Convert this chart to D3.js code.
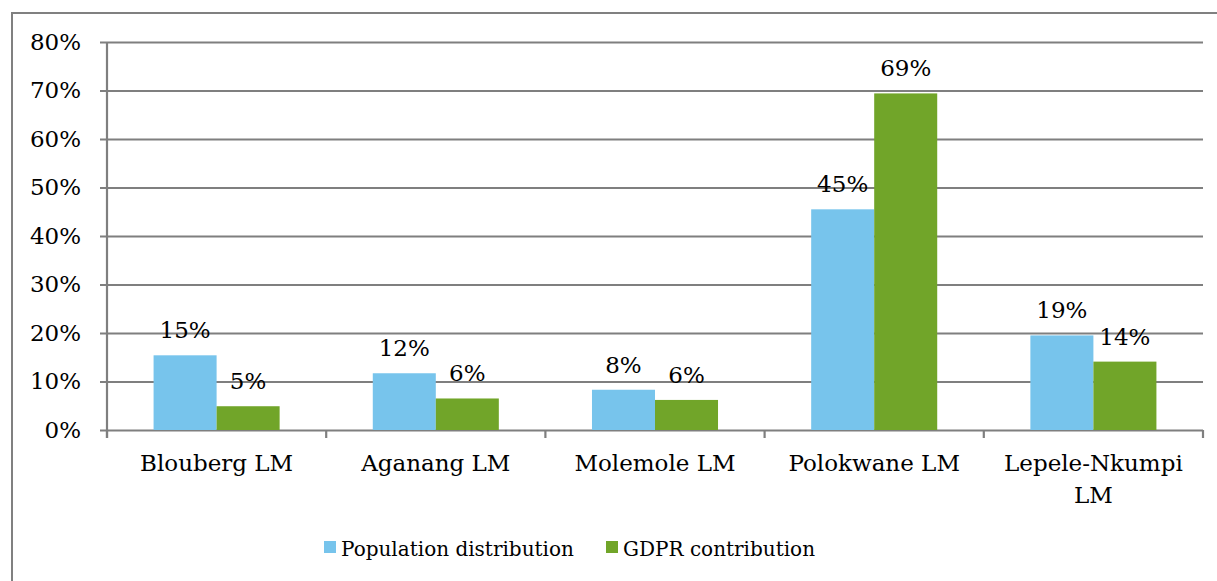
<!DOCTYPE html>
<html>
<head>
<meta charset="utf-8">
<script src="https://cdn.jsdelivr.net/npm/d3@7"></script>
<style>
  body { margin: 0; background: #fff; }
  svg { display: block; }
  text { font-family: "DejaVu Serif", serif; fill: #000; }
</style>
</head>
<body>
<div id="chart"></div>
<script>
const categories = ["Blouberg LM", "Aganang LM", "Molemole LM", "Polokwane LM", "Lepele-Nkumpi LM"];
const seriesNames = ["Population distribution", "GDPR contribution"];
const population = [15.4, 11.7, 8.3, 45.5, 19.5];
const gdpr = [4.9, 6.5, 6.2, 69.4, 14.1];
const popLabels = ["15%", "12%", "8%", "45%", "19%"];
const gdprLabels = ["5%", "6%", "6%", "69%", "14%"];
const yTicks = [0, 10, 20, 30, 40, 50, 60, 70, 80];
const colors = ["#77c4ec", "#71a529"];

const width = 1217, height = 581;
const margin = {left: 107, right: 14, top: 42, bottom: 151};

const svg = d3.select("#chart").append("svg")
    .attr("width", width)
    .attr("height", height);

// outer frame, runs off the right and bottom edges
svg.append("rect")
    .attr("x", 12).attr("y", 13)
    .attr("width", 1220).attr("height", 600)
    .attr("fill", "none")
    .attr("stroke", "#808080")
    .attr("stroke-width", 2);

const x0 = d3.scaleBand()
    .domain(categories)
    .range([margin.left, width - margin.right]);

const groupW = x0.bandwidth() * 0.575;
const x1 = d3.scaleBand()
    .domain(seriesNames)
    .range([(x0.bandwidth() - groupW) / 2, (x0.bandwidth() + groupW) / 2]);

const y = d3.scaleLinear()
    .domain([0, 80])
    .range([height - margin.bottom, margin.top]);

// gridlines + y labels
const yAxis = svg.append("g")
    .attr("transform", `translate(${margin.left},0)`)
    .call(d3.axisLeft(y).tickValues(yTicks).tickFormat(d => d + "%")
        .tickSize(-(width - margin.right - margin.left)).tickPadding(26));
yAxis.select(".domain").remove();
yAxis.selectAll(".tick line")
    .attr("x1", -7)
    .attr("stroke", "#7f7f7f")
    .attr("stroke-width", 2.2);
yAxis.selectAll(".tick text")
    .style("font-size", "23px")
    .style("font-family", "DejaVu Serif");

// y axis line
svg.append("line")
    .attr("x1", margin.left).attr("x2", margin.left)
    .attr("y1", y(80)).attr("y2", y(0) + 8)
    .attr("stroke", "#7f7f7f").attr("stroke-width", 2.2);

// category ticks
svg.append("g").selectAll("line")
    .data(categories.concat(["end"]))
    .join("line")
    .attr("x1", (d, i) => margin.left + i * x0.step())
    .attr("x2", (d, i) => margin.left + i * x0.step())
    .attr("y1", y(0)).attr("y2", y(0) + 8)
    .attr("stroke", "#7f7f7f").attr("stroke-width", 2.2);

const rows = categories.map((c, i) => ({
  cat: c,
  vals: [
    {s: seriesNames[0], v: population[i], label: popLabels[i], c: colors[0]},
    {s: seriesNames[1], v: gdpr[i], label: gdprLabels[i], c: colors[1]}
  ]
}));

const groups = svg.append("g").selectAll("g")
    .data(rows)
    .join("g")
    .attr("transform", d => `translate(${x0(d.cat)},0)`);

groups.selectAll("rect")
    .data(d => d.vals)
    .join("rect")
    .attr("x", d => x1(d.s))
    .attr("width", x1.bandwidth())
    .attr("y", d => y(d.v))
    .attr("height", d => y(0) - y(d.v))
    .attr("fill", d => d.c);

groups.selectAll("text.lbl")
    .data(d => d.vals)
    .join("text")
    .attr("class", "lbl")
    .attr("x", d => x1(d.s) + x1.bandwidth() / 2)
    .attr("y", d => y(d.v) - 17)
    .attr("text-anchor", "middle")
    .style("font-size", "23px")
    .text(d => d.label);

// category labels (wrap long one)
const catLabels = svg.append("g").selectAll("text")
    .data(categories)
    .join("text")
    .attr("x", d => x0(d) + x0.bandwidth() / 2)
    .attr("y", y(0) + 41)
    .attr("text-anchor", "middle")
    .style("font-size", "23px");
catLabels.each(function(d) {
  const t = d3.select(this);
  if (d === "Lepele-Nkumpi LM") {
    t.append("tspan").attr("x", x0(d) + x0.bandwidth() / 2).text("Lepele-Nkumpi");
    t.append("tspan").attr("x", x0(d) + x0.bandwidth() / 2).attr("dy", 32).text("LM");
  } else {
    t.text(d);
  }
});

// legend
const legendX = [324, 606];
const legend = svg.append("g").selectAll("g")
    .data(seriesNames)
    .join("g")
    .attr("transform", (d, i) => `translate(${legendX[i]},541)`);
legend.append("rect")
    .attr("width", 12).attr("height", 12)
    .attr("fill", (d, i) => colors[i]);
legend.append("text")
    .attr("x", 17).attr("y", 15)
    .style("font-size", "20px")
    .text(d => d);
</script>
</body>
</html>
